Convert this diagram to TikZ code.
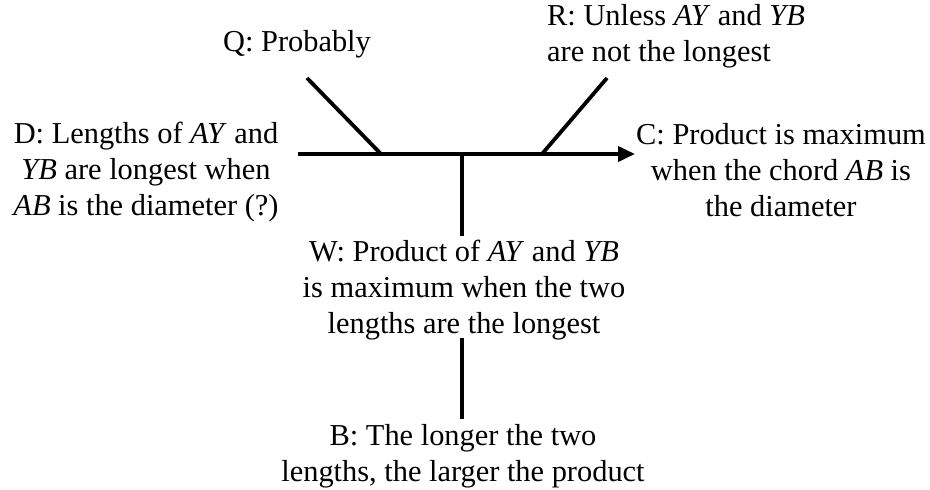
\documentclass[tikz,border=0pt]{standalone}
\usepackage{fontspec}
\setmainfont{Liberation Serif}
\usetikzlibrary{arrows.meta}
\begin{document}
\begin{tikzpicture}[x=1pt,y=-1pt,
  lbl/.style={align=center,inner sep=0pt,font=\fontsize{30.4}{36.2}\selectfont},
  ln/.style={line width=3.8pt}]
\useasboundingbox (0,0) rectangle (930,490);
\node[lbl] (Q) at (297,44) {Q: Probably};
\node[lbl,align=left,anchor=west] (R) at (547,36) {R: Unless \textit{AY} and \textit{YB}\\are not the longest};
\node[lbl] (D) at (146,172) {D: Lengths of \textit{AY} and\\\textit{YB} are longest when\\\textit{AB} is the diameter (?)};
\node[lbl] (C) at (781,170) {C: Product is maximum\\when the chord \textit{AB} is\\the diameter};
\node[lbl] (W) at (464,290) {W: Product of \textit{AY} and \textit{YB}\\is maximum when the two\\lengths are the longest};
\node[lbl] (B) at (463,456) {B: The longer the two\\lengths, the larger the product};
\coordinate (ds) at (298,154);
\coordinate (ce) at (635,154);
\coordinate (qj) at (381,154);
\coordinate (qe) at (307,78);
\coordinate (rj) at (542,154);
\coordinate (re) at (607,78);
\coordinate (wj) at (462,154);
\coordinate (wt) at (462,236);
\coordinate (wb) at (462,338);
\coordinate (bt) at (462,419);
\draw[ln,-{Triangle[length=17pt,width=15pt]}] (ds) -- (ce);
\draw[ln] (qe) -- (qj);
\draw[ln] (re) -- (rj);
\draw[ln] (wj) -- (wt);
\draw[ln] (wb) -- (bt);
\end{tikzpicture}
\end{document}
